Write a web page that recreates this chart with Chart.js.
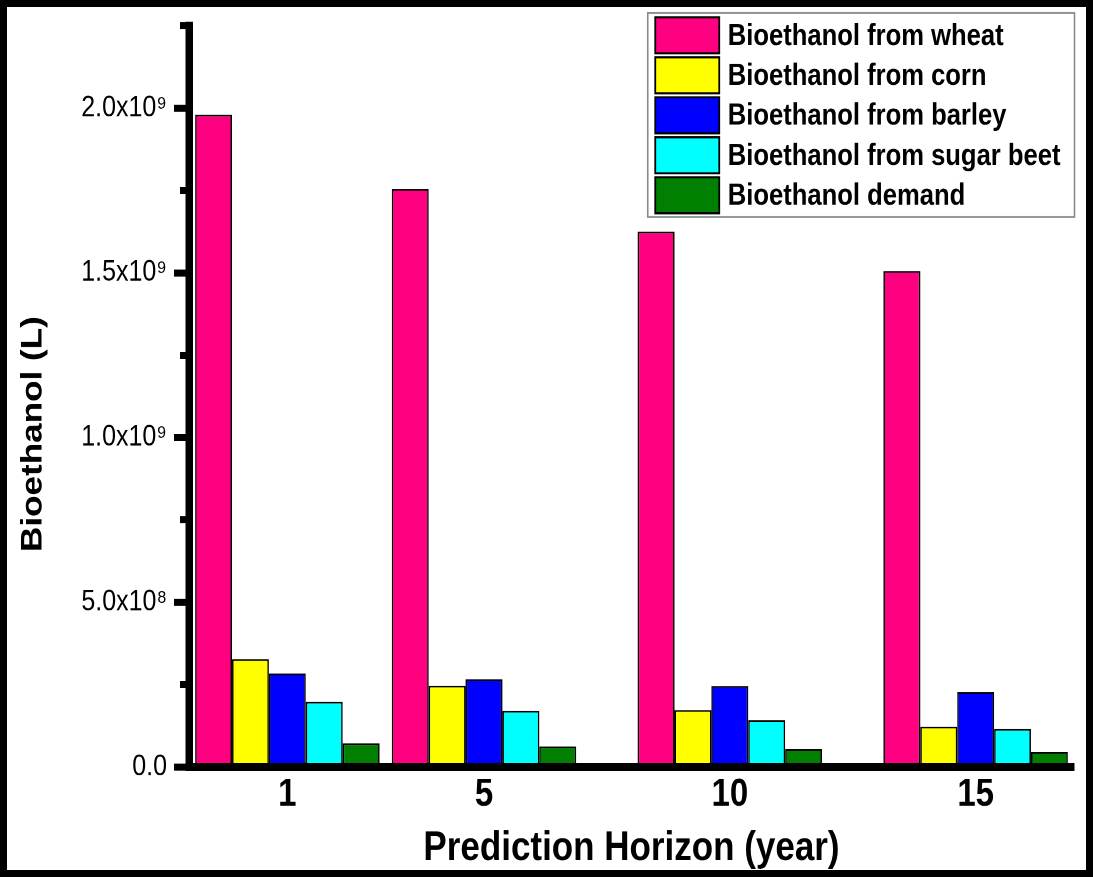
<!DOCTYPE html>
<html>
<head>
<meta charset="utf-8">
<script src="https://cdn.jsdelivr.net/npm/chart.js@4.4.1/dist/chart.umd.min.js"></script>
<style>
  html { margin: 0; padding: 0; background: #fff; }
  body { margin: 0; padding: 0; background: #fff; width: 1093px; height: 877px; }
  /* the drawing is laid out on a 1093x750 canvas and stretched vertically to fill 877px */
  #stage { width: 1093px; height: 750px; transform: scaleY(1.16933); transform-origin: 0 0; }
  #stage canvas { display: block; }
</style>
</head>
<body>
<div id="stage"><canvas id="chart"></canvas></div>
<script>
// Prediction horizons (years) and bioethanol volumes (litres)
const years = [1, 5, 10, 15];
const seriesNames = [
  'Bioethanol from wheat',
  'Bioethanol from corn',
  'Bioethanol from barley',
  'Bioethanol from sugar beet',
  'Bioethanol demand'
];
const wheat     = [1.98e9, 1.755e9, 1.625e9, 1.505e9];
const corn      = [3.28e8, 2.47e8, 1.73e8, 1.23e8];
const barley    = [2.84e8, 2.66e8, 2.46e8, 2.27e8];
const sugarBeet = [1.98e8, 1.71e8, 1.42e8, 1.16e8];
const demand    = [7.25e7, 6.3e7, 5.5e7, 4.6e7];

// Value axis ticks
const yTickValues = [0, 5e8, 1e9, 1.5e9, 2e9];
const yTickLabels = ['0.0', '5.0x10\u2078', '1.0x10\u2079', '1.5x10\u2079', '2.0x10\u2079'];
const yMinorTickValues = [2.5e8, 7.5e8, 1.25e9, 1.75e9, 2.25e9];

const FAMILY = "'Liberation Sans', Arial, Helvetica, sans-serif";
Chart.defaults.font.family = FAMILY;
Chart.defaults.color = '#000';

const fills = ['#FF0080', '#FFFF00', '#0000FF', '#00FFFF', '#007F00'];
const seriesValues = [wheat, corn, barley, sugarBeet, demand];

// Legend in a thin grey box, anchored to the top-right corner of the plot
const boxedLegend = {
  id: 'boxedLegend',
  afterDraw(chart, args, o) {
    const { ctx, chartArea } = chart;
    const sets = chart.data.datasets;
    ctx.save();
    ctx.font = `bold ${o.fontSize}px ${FAMILY}`;
    const textW = Math.max(...sets.map(d => ctx.measureText(d.label).width));
    const w = o.padLeft + o.swatchW + o.gap + textW + o.padRight;
    const h = o.padTop + (sets.length - 1) * o.rowPitch + o.swatchH + o.padBottom;
    const right = chartArea.right + 0.5;
    const left = right - w;
    const top = o.top;
    ctx.fillStyle = '#fff';
    ctx.fillRect(left, top, w, h);
    ctx.strokeStyle = '#8a8a8a';
    ctx.lineWidth = 1.6;
    ctx.strokeRect(left, top, w, h);
    sets.forEach((d, i) => {
      const sy = top + o.padTop + i * o.rowPitch;
      const sx = left + o.padLeft;
      ctx.fillStyle = d.backgroundColor;
      ctx.fillRect(sx, sy, o.swatchW, o.swatchH);
      ctx.strokeStyle = '#000';
      ctx.lineWidth = 1.8;
      ctx.strokeRect(sx, sy, o.swatchW, o.swatchH);
      ctx.fillStyle = '#000';
      ctx.textAlign = 'left';
      ctx.textBaseline = 'middle';
      ctx.fillText(d.label, sx + o.swatchW + o.gap, sy + o.swatchH / 2 + 1);
    });
    ctx.restore();
  }
};

// Heavy black frame round the whole figure
const outerFrame = {
  id: 'outerFrame',
  afterDraw(chart) {
    const { ctx, width, height } = chart;
    ctx.save();
    ctx.fillStyle = '#000';
    ctx.fillRect(0, 0, width, 6);
    ctx.fillRect(0, height - 6, width, 6);
    ctx.fillRect(0, 0, 7, height);
    ctx.fillRect(width - 7, 0, 7, height);
    ctx.restore();
  }
};

new Chart(document.getElementById('chart'), {
  type: 'bar',
  data: {
    labels: years,
    datasets: seriesNames.map((name, i) => ({
      label: name,
      data: seriesValues[i],
      backgroundColor: fills[i],
      borderColor: '#000',
      borderWidth: 1.5,
      categoryPercentage: 0.9375,
      barPercentage: 1
    }))
  },
  options: {
    responsive: true,
    maintainAspectRatio: false,
    devicePixelRatio: 2,
    animation: false,
    layout: { padding: { left: 0, top: 18.8, right: 19, bottom: 26.4 } },
    plugins: {
      legend: { display: false },
      tooltip: { enabled: false },
      title: {
        display: true,
        position: 'left',
        align: 'center',
        text: 'Bioethanol (L)',
        color: '#000',
        font: { size: 30, weight: 'bold' },
        padding: { top: 15, bottom: 0 }
      },
      boxedLegend: {
        top: 11.1, padTop: 3.7, padBottom: 3.2, padLeft: 7.5, padRight: 14,
        swatchW: 64, swatchH: 30.8, rowPitch: 34.2, gap: 8.5, fontSize: 25.6
      }
    },
    scales: {
      x: {
        type: 'linear',
        min: -1,
        max: 17,
        offset: false,
        grid: { display: false, drawTicks: false, offset: false },
        border: { display: true, color: '#000', width: 7, z: 1 },
        afterBuildTicks: (scale) => { scale.ticks = years.map(v => ({ value: v })); },
        ticks: {
          padding: 4,
          color: '#000',
          font: { size: 33, weight: 'bold' },
          callback: (v) => String(v)
        },
        title: {
          display: true,
          text: 'Prediction Horizon (year)',
          color: '#000',
          font: { size: 35, weight: 'bold' },
          padding: { top: 0, bottom: -23.4 }
        },
        afterFit: (scale) => { scale.height = 67.6; }
      },
      y: {
        min: 0,
        max: 2.25e9,
        weight: 1,
        grid: {
          display: true, drawOnChartArea: false, drawTicks: true,
          tickLength: 15, tickWidth: 6, tickColor: '#000'
        },
        border: { display: true, color: '#000', width: 7.5, z: 1 },
        afterBuildTicks: (scale) => { scale.ticks = yTickValues.map(v => ({ value: v })); },
        ticks: {
          padding: 7,
          color: '#000',
          font: { size: 25 },
          callback: (v) => yTickLabels[yTickValues.indexOf(v)]
        },
        afterFit: (scale) => { scale.width = 138; }
      },
      yMinor: {
        type: 'linear',
        position: 'left',
        min: 0,
        max: 2.25e9,
        weight: -1,
        grid: {
          display: true, drawOnChartArea: false, drawTicks: true,
          tickLength: 9, tickWidth: 6, tickColor: '#000'
        },
        border: { display: false },
        afterBuildTicks: (scale) => { scale.ticks = yMinorTickValues.map(v => ({ value: v })); },
        ticks: { display: false },
        afterFit: (scale) => { scale.width = 0; }
      }
    }
  },
  plugins: [boxedLegend, outerFrame]
});
</script>
</body>
</html>
